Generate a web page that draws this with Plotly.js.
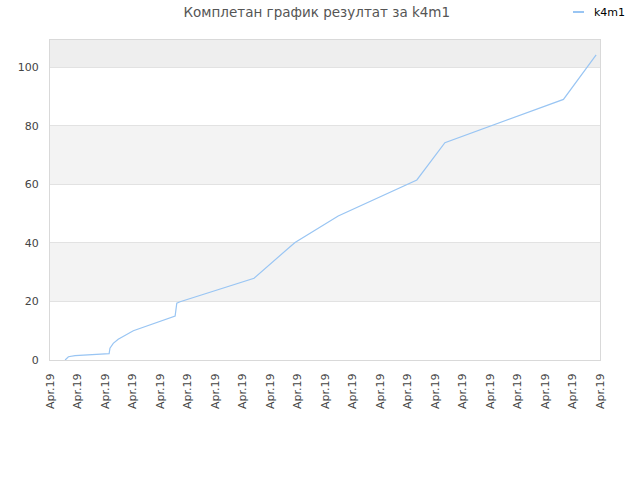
<!DOCTYPE html>
<html>
<head>
<meta charset="utf-8">
<script src="https://cdn.plot.ly/plotly-3.0.1.min.js"></script>
<style>
  html, body { margin: 0; padding: 0; background: #fff; }
  #chart { width: 640px; height: 480px; }
</style>
</head>
<body>
<div id="chart"></div>
<script>
// tick positions along the time axis (all labelled the same)
const tickPositions = [0, 1, 2, 3, 4, 5, 6, 7, 8, 9, 10, 11, 12, 13, 14, 15, 16, 17, 18, 19, 20];
const tickLabels = tickPositions.map(() => 'Apr.19');

// series k4m1
const seriesName = 'k4m1';
const timeX = [0.55, 0.67, 0.91, 1.39, 1.45, 2.15, 2.18, 2.30, 2.48, 2.85, 3.03,
               4.55, 4.61, 4.73, 7.42, 8.73, 8.91, 10.48, 13.34, 14.36, 18.67, 19.86];
const resultY = [0, 1.1, 1.5, 1.7, 1.9, 2.2, 4.0, 5.7, 7.1, 9.1, 10.0,
                 15.0, 19.4, 19.9, 27.9, 38.7, 40.1, 49.2, 61.5, 74.2, 89.0, 104.2];

// shaded horizontal bands
const bandFrom = [20, 60, 100];
const bandTo = [40, 80, 109.3];
const bandColor = ['#f3f3f3', '#f3f3f3', '#eeeeee'];

const lineColor = '#99c5f3';

const shapes = bandFrom.map((y0, i) => ({
    type: 'rect', xref: 'paper', yref: 'y', layer: 'below',
    x0: 0, x1: 1, y0: y0, y1: bandTo[i],
    fillcolor: bandColor[i], line: { width: 0 }
}));
// legend line sample
shapes.push({
    type: 'line', xref: 'paper', yref: 'paper',
    x0: (573 - 50) / 550, x1: (584 - 50) / 550,
    y0: 1 + 28 / 320, y1: 1 + 28 / 320,
    line: { color: lineColor, width: 2 }
});

const trace = {
    x: timeX,
    y: resultY,
    type: 'scatter',
    mode: 'lines',
    name: seriesName,
    line: { color: lineColor, width: 1.2 },
    hoverinfo: 'skip'
};

const layout = {
    width: 640,
    height: 480,
    margin: { l: 50, r: 40, t: 40, b: 120 },
    paper_bgcolor: '#ffffff',
    plot_bgcolor: '#ffffff',
    font: { family: 'DejaVu Sans, sans-serif', size: 11, color: '#444' },
    showlegend: false,
    title: {
        text: 'Комплетан график резултат за k4m1',
        font: { family: 'DejaVu Sans, sans-serif', size: 13.5, color: '#555' },
        x: 0.495, xanchor: 'center',
        y: 1 - 12 / 480, yanchor: 'middle'
    },
    xaxis: {
        range: [0, 20],
        tickmode: 'array',
        tickvals: tickPositions,
        ticktext: tickLabels,
        tickangle: -90,
        ticks: '',
        ticklabelstandoff: 8,
        showgrid: false,
        zeroline: false,
        showline: true,
        linecolor: '#d9d9d9',
        linewidth: 1,
        mirror: true,
        tickfont: { size: 11, color: '#444' }
    },
    yaxis: {
        range: [0, 109.3],
        tickmode: 'array',
        tickvals: [0, 20, 40, 60, 80, 100],
        ticks: '',
        ticklabelstandoff: 8,
        showgrid: true,
        gridcolor: '#e2e2e2',
        gridwidth: 1,
        zeroline: false,
        showline: true,
        linecolor: '#d9d9d9',
        linewidth: 1,
        mirror: true,
        tickfont: { size: 11, color: '#444' }
    },
    shapes: shapes,
    annotations: [{
        text: seriesName,
        xref: 'paper', yref: 'paper',
        x: (592 - 50) / 550, y: 1 + 28 / 320,
        xanchor: 'left', yanchor: 'middle',
        showarrow: false,
        font: { family: 'DejaVu Sans, sans-serif', size: 11, color: '#000' }
    }]
};

Plotly.newPlot('chart', [trace], layout, { displayModeBar: false, staticPlot: true });
</script>
</body>
</html>
